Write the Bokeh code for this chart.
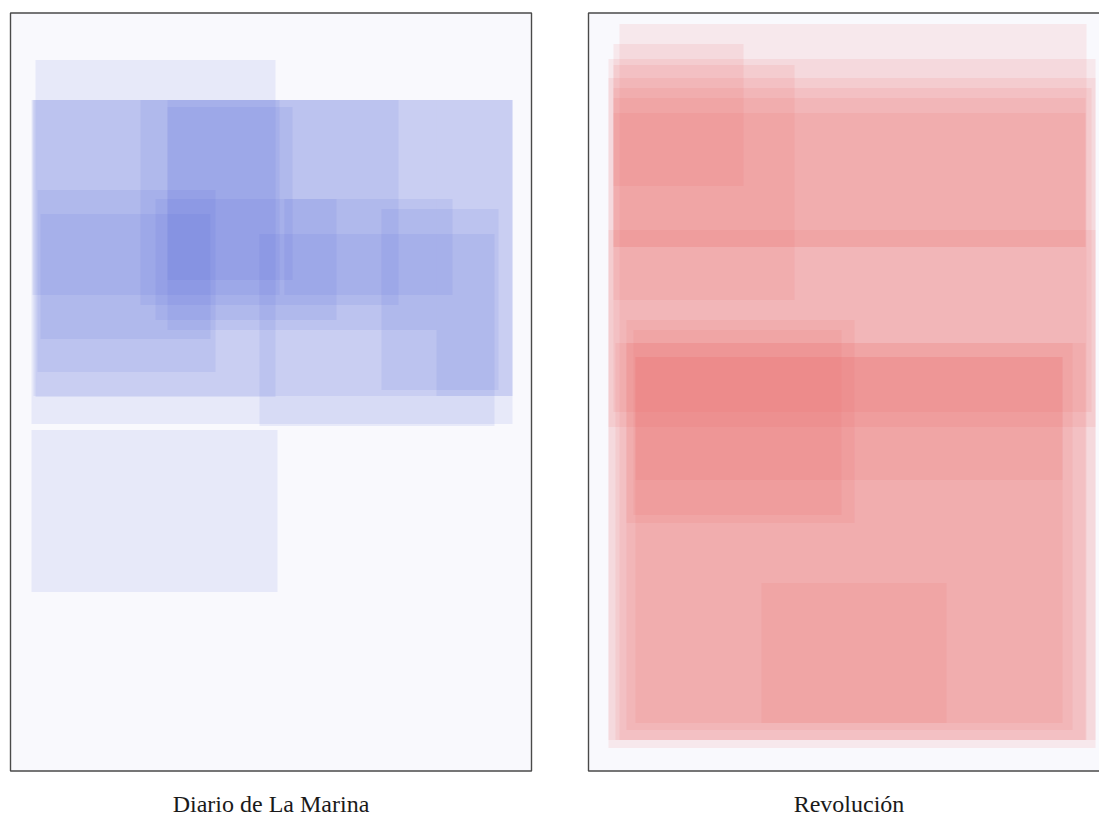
from bokeh.plotting import figure
from bokeh.layouts import row
from bokeh.models import Range1d, ColumnDataSource
from bokeh.core.properties import value
from bokeh.embed import file_html
from bokeh.resources import INLINE

# Page size (page units)
PAGE_W = 521
PAGE_H = 758

titles = ["Diario de La Marina", "Revolución"]

# Diario de La Marina: article boxes (page units, y downward)
marina_left   = [25, 21, 23, 249, 371, 274, 22, 157, 130, 27, 30, 145, 157, 426, 21]
marina_top    = [47, 87, 87, 221, 196, 186, 87, 94, 87, 177, 201, 186, 87, 87, 417]
marina_right  = [265, 502, 502, 484, 488, 442, 269, 282, 388, 205, 200, 326, 426, 502, 267]
marina_bottom = [384, 411, 383, 413, 377, 282, 282, 267, 292, 359, 326, 307, 317, 383, 579]

# Revolución: article boxes (page units, y downward)
rev_left   = [31, 20, 20, 25, 25, 25, 25, 25, 20, 27, 38, 45, 47, 38, 47, 173]
rev_top    = [11, 46, 65, 75, 85, 100, 31, 52, 217, 330, 307, 317, 344, 330, 344, 570]
rev_right  = [498, 507, 507, 503, 497, 497, 155, 206, 507, 497, 266, 253, 474, 484, 474, 358]
rev_bottom = [727, 735, 414, 399, 234, 234, 173, 287, 727, 727, 510, 502, 467, 717, 710, 710]


def make_panel(title, lefts, tops, rights, bottoms, color, alpha, width, x0, x1):
    p = figure(width=width, height=813, output_backend="svg", toolbar_location=None,
               x_axis_type=None, y_axis_type=None,
               x_range=Range1d(x0, x1), y_range=Range1d(800.5, -12.5),
               min_border=0, min_border_left=0, min_border_right=0,
               min_border_top=0, min_border_bottom=0)
    p.outline_line_color = None
    p.background_fill_color = "white"
    p.border_fill_color = "white"
    # page
    p.quad(left=[0], right=[PAGE_W], top=[0], bottom=[PAGE_H],
           fill_color="#f9f9fd", line_color="#4a4a4a", line_width=1.4)
    src = ColumnDataSource(dict(left=lefts, top=tops, right=rights, bottom=bottoms))
    p.quad(left="left", right="right", top="top", bottom="bottom", source=src,
           fill_color=color, fill_alpha=alpha, line_color=None)
    p.text(x=[PAGE_W / 2], y=[791], text=[title], text_align="center",
           text_baseline="alphabetic", text_font=value("Liberation Serif"),
           text_font_size="24px", text_color="#1a1a1a")
    return p


p1 = make_panel(titles[0], marina_left, marina_top, marina_right, marina_bottom,
                "#4a62dc", 0.1, 550, -10, 540)
p2 = make_panel(titles[1], rev_left, rev_top, rev_right, rev_bottom,
                "#ec6666", 0.11, 549, -38, 511)

layout = row(p1, p2, spacing=0)
open("out.html", "w").write(file_html(layout, INLINE))
